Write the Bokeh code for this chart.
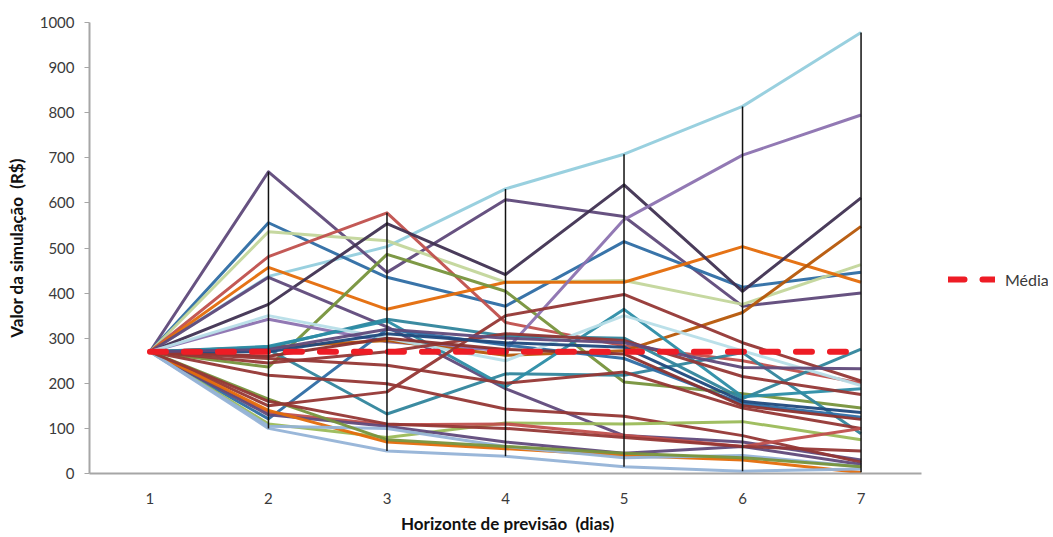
from bokeh.plotting import figure
from bokeh.models import Range1d, FixedTicker, Legend, LegendItem, Title
from bokeh.embed import file_html
from bokeh.resources import INLINE

# ---- data ----
dias = [1, 2, 3, 4, 5, 6, 7]
tick_labels = ["1", "2", "3", "4", "5", "6", "7"]
y_ticks = [0, 100, 200, 300, 400, 500, 600, 700, 800, 900, 1000]

s01 = [270, 437, 503, 631, 708, 814, 978]
s02 = [270, 669, 446, 607, 570, 371, 400]
s03 = [270, 556, 435, 371, 514, 413, 446]
s04 = [270, 536, 516, 424, 428, 375, 463]
s05 = [270, 481, 578, 335, 283, 250, 200]
s06 = [270, 457, 364, 424, 424, 503, 424]
s07 = [270, 375, 554, 441, 640, 404, 611]
s08 = [270, 435, 325, 188, 84, 70, 30]
s09 = [270, 236, 486, 404, 203, 177, 145]
s10 = [270, 342, 292, 272, 563, 706, 795]
s11 = [270, 280, 295, 262, 272, 357, 548]
s12 = [270, 280, 342, 305, 300, 166, 276]
s13 = [270, 275, 132, 221, 218, 268, 88]
s14 = [270, 282, 338, 192, 364, 170, 188]
s15 = [270, 121, 320, 285, 255, 155, 125]
s16 = [270, 350, 300, 250, 350, 272, 195]
s17 = [270, 245, 270, 310, 295, 215, 175]
s18 = [270, 218, 199, 143, 127, 84, 25]
s19 = [270, 150, 181, 350, 397, 290, 205]
s20 = [270, 260, 300, 275, 265, 150, 120]
s21 = [270, 270, 310, 290, 280, 160, 135]
s22 = [270, 255, 240, 200, 225, 145, 100]
s23 = [270, 275, 320, 300, 290, 235, 232]
s24 = [270, 110, 80, 112, 110, 115, 75]
s25 = [270, 135, 108, 110, 85, 60, 100]
s26 = [270, 130, 105, 70, 45, 60, 20]
s27 = [270, 140, 70, 55, 40, 30, 2]
s28 = [270, 100, 50, 38, 15, 5, 10]
s29 = [270, 105, 100, 60, 35, 40, 15]
s30 = [270, 165, 75, 60, 45, 35, 15]
s31 = [270, 160, 110, 100, 80, 60, 50]

media = [270, 270, 270, 270, 270, 270, 270]

series = [s01, s02, s03, s04, s05, s06, s07, s08, s09, s10, s11, s12, s13, s14, s15,
          s16, s17, s18, s19, s20, s21, s22, s23, s24, s25, s26, s27, s28, s29, s30, s31]
colors = ["#93CDDD", "#5F497A", "#2E6DA4", "#C3D69B", "#C0504D", "#E46C0A", "#403152",
          "#604A7B", "#77933C", "#8C72B0", "#B65708", "#31859C", "#31859C", "#2C8DA6",
          "#2E6DA4", "#B7DEE8", "#953735", "#953735", "#953735", "#8B2F2D", "#1F497D",
          "#953735", "#604A7B", "#9BBB59", "#C0504D", "#604A7B", "#E46C0A", "#95B3D7",
          "#95B3D7", "#77933C", "#953735"]

x_title = "Horizonte de previsão \u00a0(dias)"
y_title = "Valor da simulação \u00a0(R$)"

FONT = "Lato"
TITLE_PX = 17

# category axis spans 0.49..7.51 (drawn via bounds); extra room on the right holds the legend
X0, X1 = 0.49, 7.51
px_per_unit = 832 / (X1 - X0)
frame_w = 1053 - 89 - 5
x_end = X0 + frame_w / px_per_unit

p = figure(width=1053, height=537, x_range=Range1d(X0, x_end), y_range=Range1d(0, 1000),
           output_backend="svg", toolbar_location=None,
           min_border_left=89, min_border_right=5, min_border_top=22, min_border_bottom=62)
p.outline_line_color = None
p.xgrid.visible = False
p.ygrid.visible = False
p.background_fill_color = "white"

for s, c in zip(series, colors):
    p.line(dias, s, line_color=c, line_width=3, line_alpha=0.95, line_join="round")

media_r = p.line(dias, media, line_color="#EE1C25", line_width=6, line_dash="16 18",
                 line_cap="round")

# high-low lines per day
xs = dias[1:]
lows = [min(s[i] for s in series) for i in range(1, 7)]
highs = [max(s[i] for s in series) for i in range(1, 7)]
p.segment(x0=xs, y0=lows, x1=xs, y1=highs, line_color="#111111", line_width=1.5)

# axes
p.xaxis.bounds = (X0, X1)
p.xaxis.ticker = FixedTicker(ticks=dias)
p.xaxis.major_label_overrides = {d: t for d, t in zip(dias, tick_labels)}
p.xaxis.major_tick_line_color = None
p.xaxis.minor_tick_line_color = None
p.xaxis.axis_line_color = "#A6A6A6"
p.xaxis.axis_line_width = 2
p.xaxis.major_label_standoff = 13

p.yaxis.ticker = FixedTicker(ticks=y_ticks)
p.yaxis.minor_tick_line_color = None
p.yaxis.major_tick_out = 5
p.yaxis.major_tick_in = 0
p.yaxis.major_tick_line_color = "#A6A6A6"
p.yaxis.axis_line_color = "#A6A6A6"
p.yaxis.axis_line_width = 2
p.yaxis.major_label_standoff = 10
p.yaxis.axis_label = y_title
p.yaxis.axis_label_standoff = 10

for ax in (p.xaxis, p.yaxis):
    ax.major_label_text_font = FONT
    ax.major_label_text_font_size = "15px"
    ax.major_label_text_color = "#3A3A3A"
    ax.axis_label_text_font = FONT
    ax.axis_label_text_font_size = f"{TITLE_PX}px"
    ax.axis_label_text_font_style = "bold"
    ax.axis_label_text_color = "#111111"

# x-axis title centred under the category axis (not under the wider frame)
axis_center = (1 + 7) / 2 - X0  # in data units from frame left
est_w = 209
xt = Title(text=x_title, align="left", offset=axis_center * px_per_unit - est_w / 2,
           text_font=FONT, text_font_size=f"{TITLE_PX}px", text_font_style="bold",
           text_color="#111111", standoff=8)
p.add_layout(xt, "below")

legend = Legend(items=[LegendItem(label="Média", renderers=[media_r])],
                location=(859, 184), glyph_width=47, glyph_height=20, label_standoff=10,
                label_text_font=FONT, label_text_font_size="16px", label_text_color="#3A3A3A",
                border_line_color=None, background_fill_alpha=0, padding=0, margin=0)
p.add_layout(legend)

open("out.html", "w").write(file_html(p, INLINE))
